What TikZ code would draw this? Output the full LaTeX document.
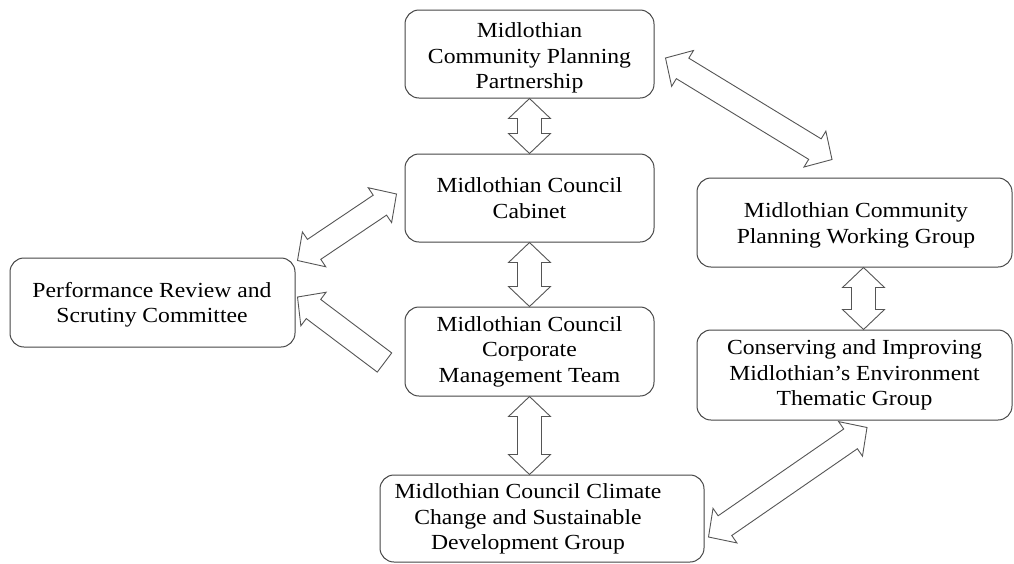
\documentclass[tikz,border=0pt]{standalone}
\usepackage{fontspec}
\setmainfont{Liberation Serif}[FakeStretch=1.1]
\usetikzlibrary{calc}
\definecolor{boxline}{RGB}{70,70,70}
\definecolor{arrline}{RGB}{85,85,85}
\tikzset{
  box/.style={draw=boxline, line width=1pt, rounded corners=14pt, fill=white,
    align=center, inner sep=0pt, font=\fontsize{21.5}{25.5}\selectfont},
  txt/.style={align=center, inner sep=0pt, font=\fontsize{21.5}{25.5}\selectfont},
  barrow/.style={draw=arrline, line width=0.9pt, fill=white, line join=miter}
}
\newcommand{\dblarr}[2]{%
  \path ($(#1)!20pt!(#2)$) coordinate (ha) ($(#2)!20pt!(#1)$) coordinate (hb);
  \draw[barrow] (#1) -- ($(ha)!21pt!-90:(#2)$) -- ($(ha)!12pt!-90:(#2)$)
    -- ($(hb)!12pt!90:(#1)$) -- ($(hb)!21pt!90:(#1)$) -- (#2)
    -- ($(hb)!21pt!-90:(#1)$) -- ($(hb)!12pt!-90:(#1)$)
    -- ($(ha)!12pt!90:(#2)$) -- ($(ha)!21pt!90:(#2)$) -- cycle;
}
\newcommand{\sglarr}[2]{% #1 tip, #2 tail
  \path ($(#1)!20pt!(#2)$) coordinate (ha);
  \draw[barrow] (#1) -- ($(ha)!21pt!-90:(#2)$) -- ($(ha)!12pt!-90:(#2)$)
    -- ($(#2)!12pt!90:(#1)$) -- ($(#2)!12pt!-90:(#1)$)
    -- ($(ha)!12pt!90:(#2)$) -- ($(ha)!21pt!90:(#2)$) -- cycle;
}
\begin{document}
\begin{tikzpicture}[x=1pt,y=-1pt]
\useasboundingbox[fill=white] (0,0) rectangle (1014,563);

\node[box, minimum width=249pt, minimum height=88pt] (cpp) at (529.5,54) {};
\node[txt] (cpptxt) at (529.5,58)
  {Midlothian\\Community Planning\\Partnership};
\node[box, minimum width=249pt, minimum height=88pt] (cab) at (529.5,198)
  {Midlothian Council\\Cabinet};
\node[box, minimum width=249pt, minimum height=89pt] (cmt) at (529.5,351.5)
  {Midlothian Council\\Corporate\\Management Team};
\node[box, minimum width=324pt, minimum height=87pt] (clim) at (542,518.5) {};
\node[txt] (climtxt) at (528,519)
  {Midlothian Council Climate\\Change and Sustainable\\Development Group};
\node[box, minimum width=285pt, minimum height=89pt] (perf) at (152.5,302.5) {};
\node[txt] (perftxt) at (152,304.5)
  {Performance Review and\\Scrutiny Committee};
\node[box, minimum width=315pt, minimum height=89pt] (wg) at (854.5,222.5) {};
\node[txt] (wgtxt) at (856,225.5)
  {Midlothian Community\\Planning Working Group};
\node[box, minimum width=315pt, minimum height=90pt] (cons) at (854.5,375)
  {Conserving and Improving\\Midlothian’s Environment\\Thematic Group};

% arrow end points
\coordinate (a1) at (cpp.south);
\coordinate (a2) at (cab.north);
\coordinate (b1) at (cab.south);
\coordinate (b2) at (cmt.north);
\coordinate (c1) at (cmt.south);
\coordinate (c2) at (cmt.south |- clim.north);
\coordinate (d1) at ($(wg.south)+(9,0)$);
\coordinate (d2) at ($(cons.north)+(9,0)$);
\coordinate (e1) at ($(cpp.east)+(11,4)$);
\coordinate (e2) at ($(wg.north)+(-22.5,-18)$);
\coordinate (f1) at ($(cab.west)+(-8,-4)$);
\coordinate (f2) at ($(perf.north east)+(2,3)$);
\coordinate (g1) at ($(perf.east)+(2,-5.5)$);
\coordinate (g2) at ($(cmt.west)+(-20,11)$);
\coordinate (h1) at ($(clim.east)+(4,18.5)$);
\coordinate (h2) at ($(cons.south)+(12.5,7)$);

\dblarr{a1}{a2}
\dblarr{b1}{b2}
\dblarr{c1}{c2}
\dblarr{d1}{d2}
\dblarr{e1}{e2}
\dblarr{f1}{f2}
\sglarr{g1}{g2}
\dblarr{h1}{h2}
\end{tikzpicture}
\end{document}
